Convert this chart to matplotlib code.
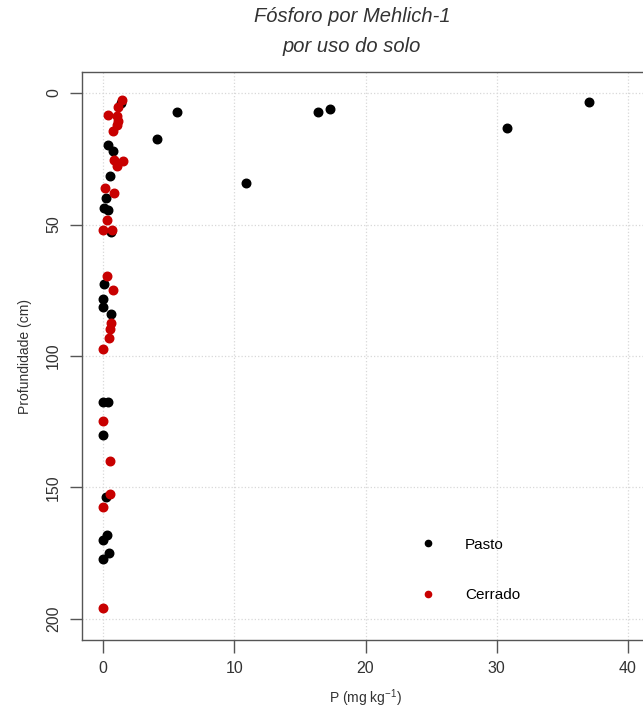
import matplotlib
matplotlib.use("Agg")
import matplotlib.pyplot as plt
from matplotlib.lines import Line2D

plt.rcParams['font.family'] = ['Liberation Sans', 'DejaVu Sans']
plt.rcParams['mathtext.fontset'] = 'custom'
plt.rcParams['mathtext.rm'] = 'Liberation Sans'
plt.rcParams['mathtext.it'] = 'Liberation Sans:italic'

# P (mg/kg) and depth (cm) per land use
pasto_p = [37.05, 17.3, 16.4, 30.8, 5.66, 4.08, 10.9, 1.37, 0.40, 0.74, 0.53, 0.23, 0.08, 0.40,
           0.58, 0.10, 0.03, 0.00, 0.58, 0.03, 0.40, 0.00, 0.23, 0.28, 0.03, 0.46, 0.00]
pasto_prof = [3.3, 6.0, 7.3, 13.3, 7.3, 17.4, 34.1, 3.8, 19.9, 21.9, 31.5, 40.0, 43.6, 44.5,
              53.0, 72.6, 78.4, 81.5, 84.0, 117.6, 117.6, 130.0, 153.5, 168.0, 170.0, 174.8, 177.3]

cerrado_p = [1.42, 1.17, 0.40, 1.04, 1.17, 1.04, 0.79, 0.84, 1.55, 1.04, 0.15, 0.84, 0.28,
             0.00, 0.66, 0.28, 0.74, 0.61, 0.53, 0.46, 0.00, 0.03, 0.53, 0.53, 0.03, 0.03]
cerrado_prof = [2.5, 5.4, 8.2, 8.9, 10.8, 12.3, 14.3, 25.3, 26.0, 27.9, 36.0, 38.1, 48.3,
                52.1, 52.1, 69.6, 74.9, 87.6, 89.9, 93.3, 97.3, 124.6, 140.0, 152.6, 157.4, 196.0]

xticks = [0, 10, 20, 30, 40]
yticks = [0, 50, 100, 150, 200]

W, H = 643, 716
fig = plt.figure(figsize=(W / 100, H / 100), dpi=100)
ax = fig.add_axes([82 / W, (H - 640) / H, 567 / W, 568 / H])

ax.scatter(pasto_p, pasto_prof, s=38, color='black', zorder=3)
ax.scatter(cerrado_p, cerrado_prof, s=38, color='#c80000', zorder=3)

ax.set_xlim(-1.6, 41.6)
ax.set_ylim(208, -8)
ax.set_xticks(xticks)
ax.set_yticks(yticks)
ax.grid(True, color='#d8d8d8', linestyle=':', linewidth=0.9, zorder=0)

for sp in ax.spines.values():
    sp.set_color('#555555')
    sp.set_linewidth(1.0)
ax.tick_params(colors='#555555', length=9, width=1.0, labelsize=11.5, labelcolor='#333333', pad=6)
for lab in ax.get_yticklabels():
    lab.set_rotation(90)
    lab.set_va('center')

ax.set_xlabel('P (mg kg$^{-1}$)', fontsize=10, color='#333333', labelpad=8)
ax.set_ylabel('Profundidade (cm)', fontsize=10, color='#333333', labelpad=10)

fig.text(352 / W, 1 - 17 / H, 'Fósforo por Mehlich-1', ha='center', va='center',
         fontsize=14.5, style='italic', color='#333333')
fig.text(352 / W, 1 - 47 / H, 'por uso do solo', ha='center', va='center',
         fontsize=14.5, style='italic', color='#333333')

handles = [Line2D([], [], marker='o', linestyle='none', color='black', markersize=4.5),
           Line2D([], [], marker='o', linestyle='none', color='#c80000', markersize=4.5)]
ax.legend(handles, ['Pasto', 'Cerrado'], loc='upper left', bbox_to_anchor=(0.597, 0.180),
          frameon=False, fontsize=11, handlelength=1.0, handletextpad=1.9,
          labelspacing=2.4, borderpad=0, borderaxespad=0)

fig.savefig('out.png', dpi=100)
